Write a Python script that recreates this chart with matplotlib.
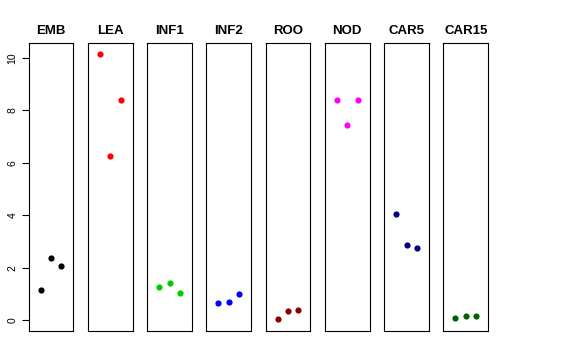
import matplotlib
matplotlib.use('Agg')
import matplotlib.pyplot as plt

plt.rcParams['font.family'] = ['Liberation Sans', 'DejaVu Sans']

# tissues and their three replicate values
tissues = ['EMB', 'LEA', 'INF1', 'INF2', 'ROO', 'NOD', 'CAR5', 'CAR15']
colors = ['black', 'red', '#00CD00', 'blue', '#8B0000', 'magenta', '#000080', '#006400']
reps = [1, 2, 3]
values = [
    [1.17, 2.36, 2.08],
    [10.16, 6.25, 8.41],
    [1.27, 1.41, 1.03],
    [0.67, 0.70, 1.00],
    [0.04, 0.37, 0.38],
    [8.41, 7.46, 8.40],
    [4.04, 2.88, 2.76],
    [0.08, 0.18, 0.15],
]
yticks = [0, 2, 4, 6, 8, 10]

W, H = 576, 360
fig = plt.figure(figsize=(W / 100, H / 100), dpi=100)

left0 = 28.7
pw = 44.7
step = 59.25
top, bottom = 43.3, 331.0

for i, (name, col, vals) in enumerate(zip(tissues, colors, values)):
    x0 = left0 + i * step
    ax = fig.add_axes([x0 / W, (H - bottom) / H, pw / W, (bottom - top) / H])
    ax.scatter(reps, vals, s=20, color=col, zorder=3, linewidths=0)
    ax.set_xlim(-0.16, 4.16)
    ax.set_ylim(-0.41, 10.56)
    ax.set_xticks([])
    for sp in ax.spines.values():
        sp.set_linewidth(0.8)
        sp.set_color('black')
    ax.set_title(name, fontsize=9.5, fontweight='bold', pad=7)
    if i == 0:
        ax.set_yticks(yticks)
        ax.set_yticklabels([str(t) for t in yticks], rotation=90, va='center', fontsize=7.5)
        ax.tick_params(axis='y', length=5, width=0.8, pad=3)
    else:
        ax.set_yticks([])

fig.savefig('out.png', dpi=100)
